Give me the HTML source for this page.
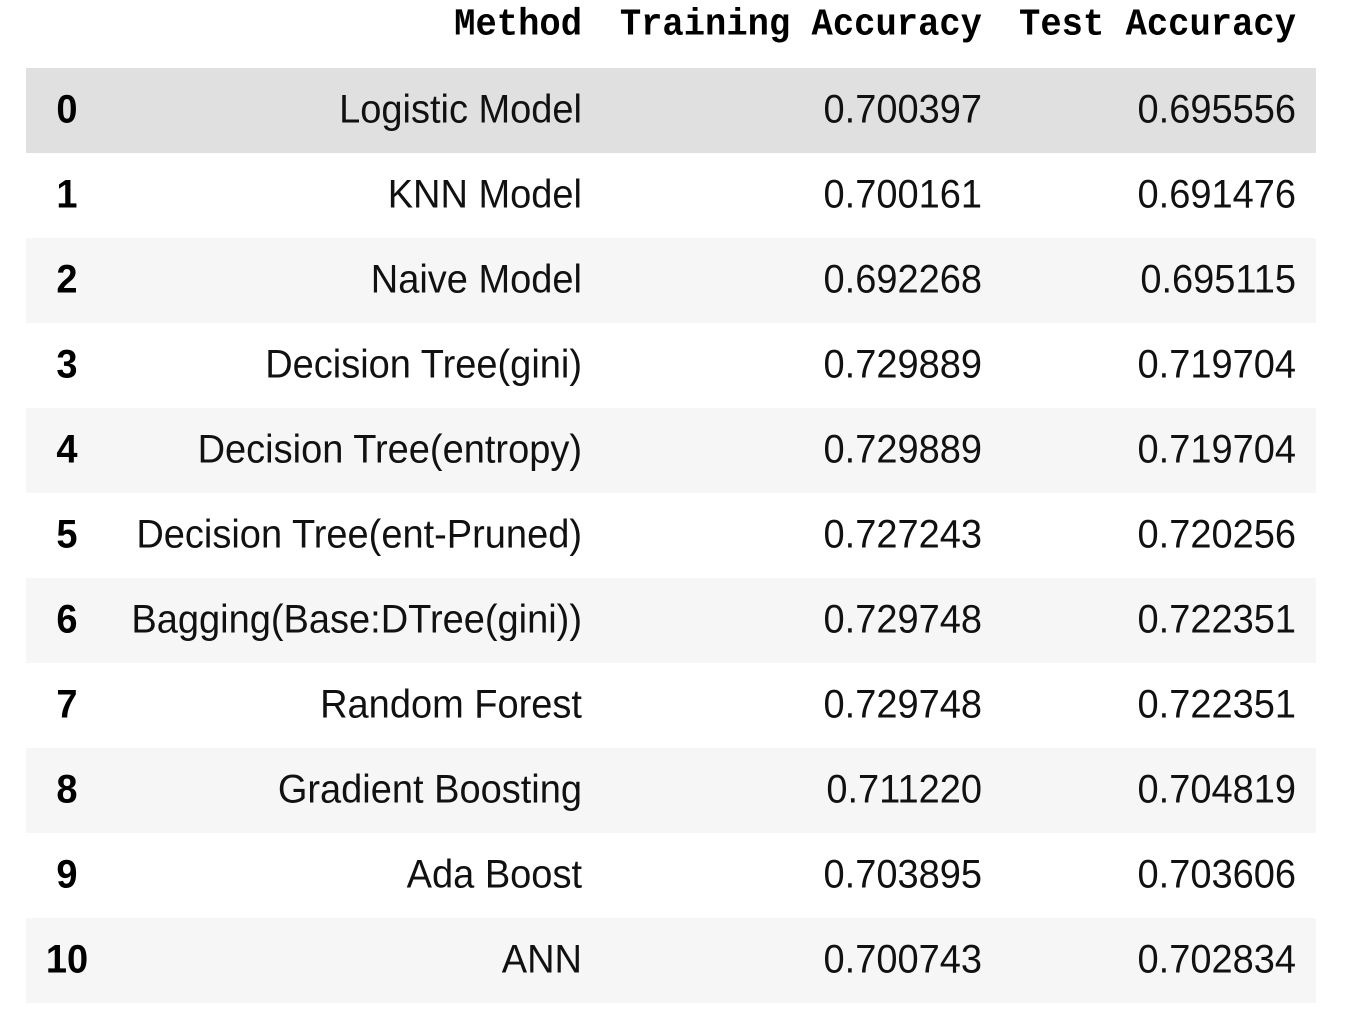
<!DOCTYPE html>
<html><head><meta charset="utf-8">
<style>
html,body{margin:0;padding:0;background:#fff;width:1355px;height:1024px;overflow:hidden;}
#tbl{position:absolute;left:0;top:0;width:1355px;height:1024px;}
.hdr{position:absolute;top:3px;height:44px;line-height:44px;font-family:"Liberation Mono",monospace;font-weight:bold;font-size:35.5px;color:#000;text-align:right;white-space:nowrap;transform:scaleY(1.08);transform-origin:right center;}
.row{position:absolute;left:26px;width:1290px;height:85px;}
.cell{position:absolute;top:0;height:85px;line-height:85px;font-family:"Liberation Sans",sans-serif;font-size:38px;color:#111;text-align:right;white-space:nowrap;transform:scaleY(1.06);}
.idx{font-weight:bold;text-align:center;color:#000;}
</style></head><body>
<div id="tbl">
<div class="hdr" style="right:773px;">Method</div>
<div class="hdr" style="right:373px;">Training Accuracy</div>
<div class="hdr" style="right:59px;">Test Accuracy</div>
</div>
<script>
const indices = ["0","1","2","3","4","5","6","7","8","9","10"];
const methods = ["Logistic Model","KNN Model","Naive Model","Decision Tree(gini)","Decision Tree(entropy)","Decision Tree(ent-Pruned)","Bagging(Base:DTree(gini))","Random Forest","Gradient Boosting","Ada Boost","ANN"];
const trainAcc = ["0.700397","0.700161","0.692268","0.729889","0.729889","0.727243","0.729748","0.729748","0.711220","0.703895","0.700743"];
const testAcc = ["0.695556","0.691476","0.695115","0.719704","0.719704","0.720256","0.722351","0.722351","0.704819","0.703606","0.702834"];

const tbl = document.getElementById('tbl');
for (let i = 0; i < methods.length; i++) {
  const r = document.createElement('div');
  r.className = 'row';
  
  
  r.style.top = (68 + i * 85) + 'px';
  r.style.background = i === 0 ? '#e0e0e0' : (i % 2 === 0 ? '#f6f6f6' : '#ffffff');
  tbl.appendChild(r);

  const ix = document.createElement('div');
  ix.className = 'cell idx';
  
  
  ix.style.left = '0px'; ix.style.width = '82px';
  ix.textContent = indices[i];
  r.appendChild(ix);

  const m = document.createElement('div');
  m.className = 'cell';
  
  
  m.style.right = (1290 - 556) + 'px';
  m.textContent = methods[i];
  r.appendChild(m);

  const t = document.createElement('div');
  t.className = 'cell';
  
  
  t.style.right = (1290 - 956) + 'px';
  t.textContent = trainAcc[i];
  r.appendChild(t);

  const s = document.createElement('div');
  s.className = 'cell';
  
  
  s.style.right = (1290 - 1270) + 'px';
  s.textContent = testAcc[i];
  r.appendChild(s);
}
</script>
</body></html>
